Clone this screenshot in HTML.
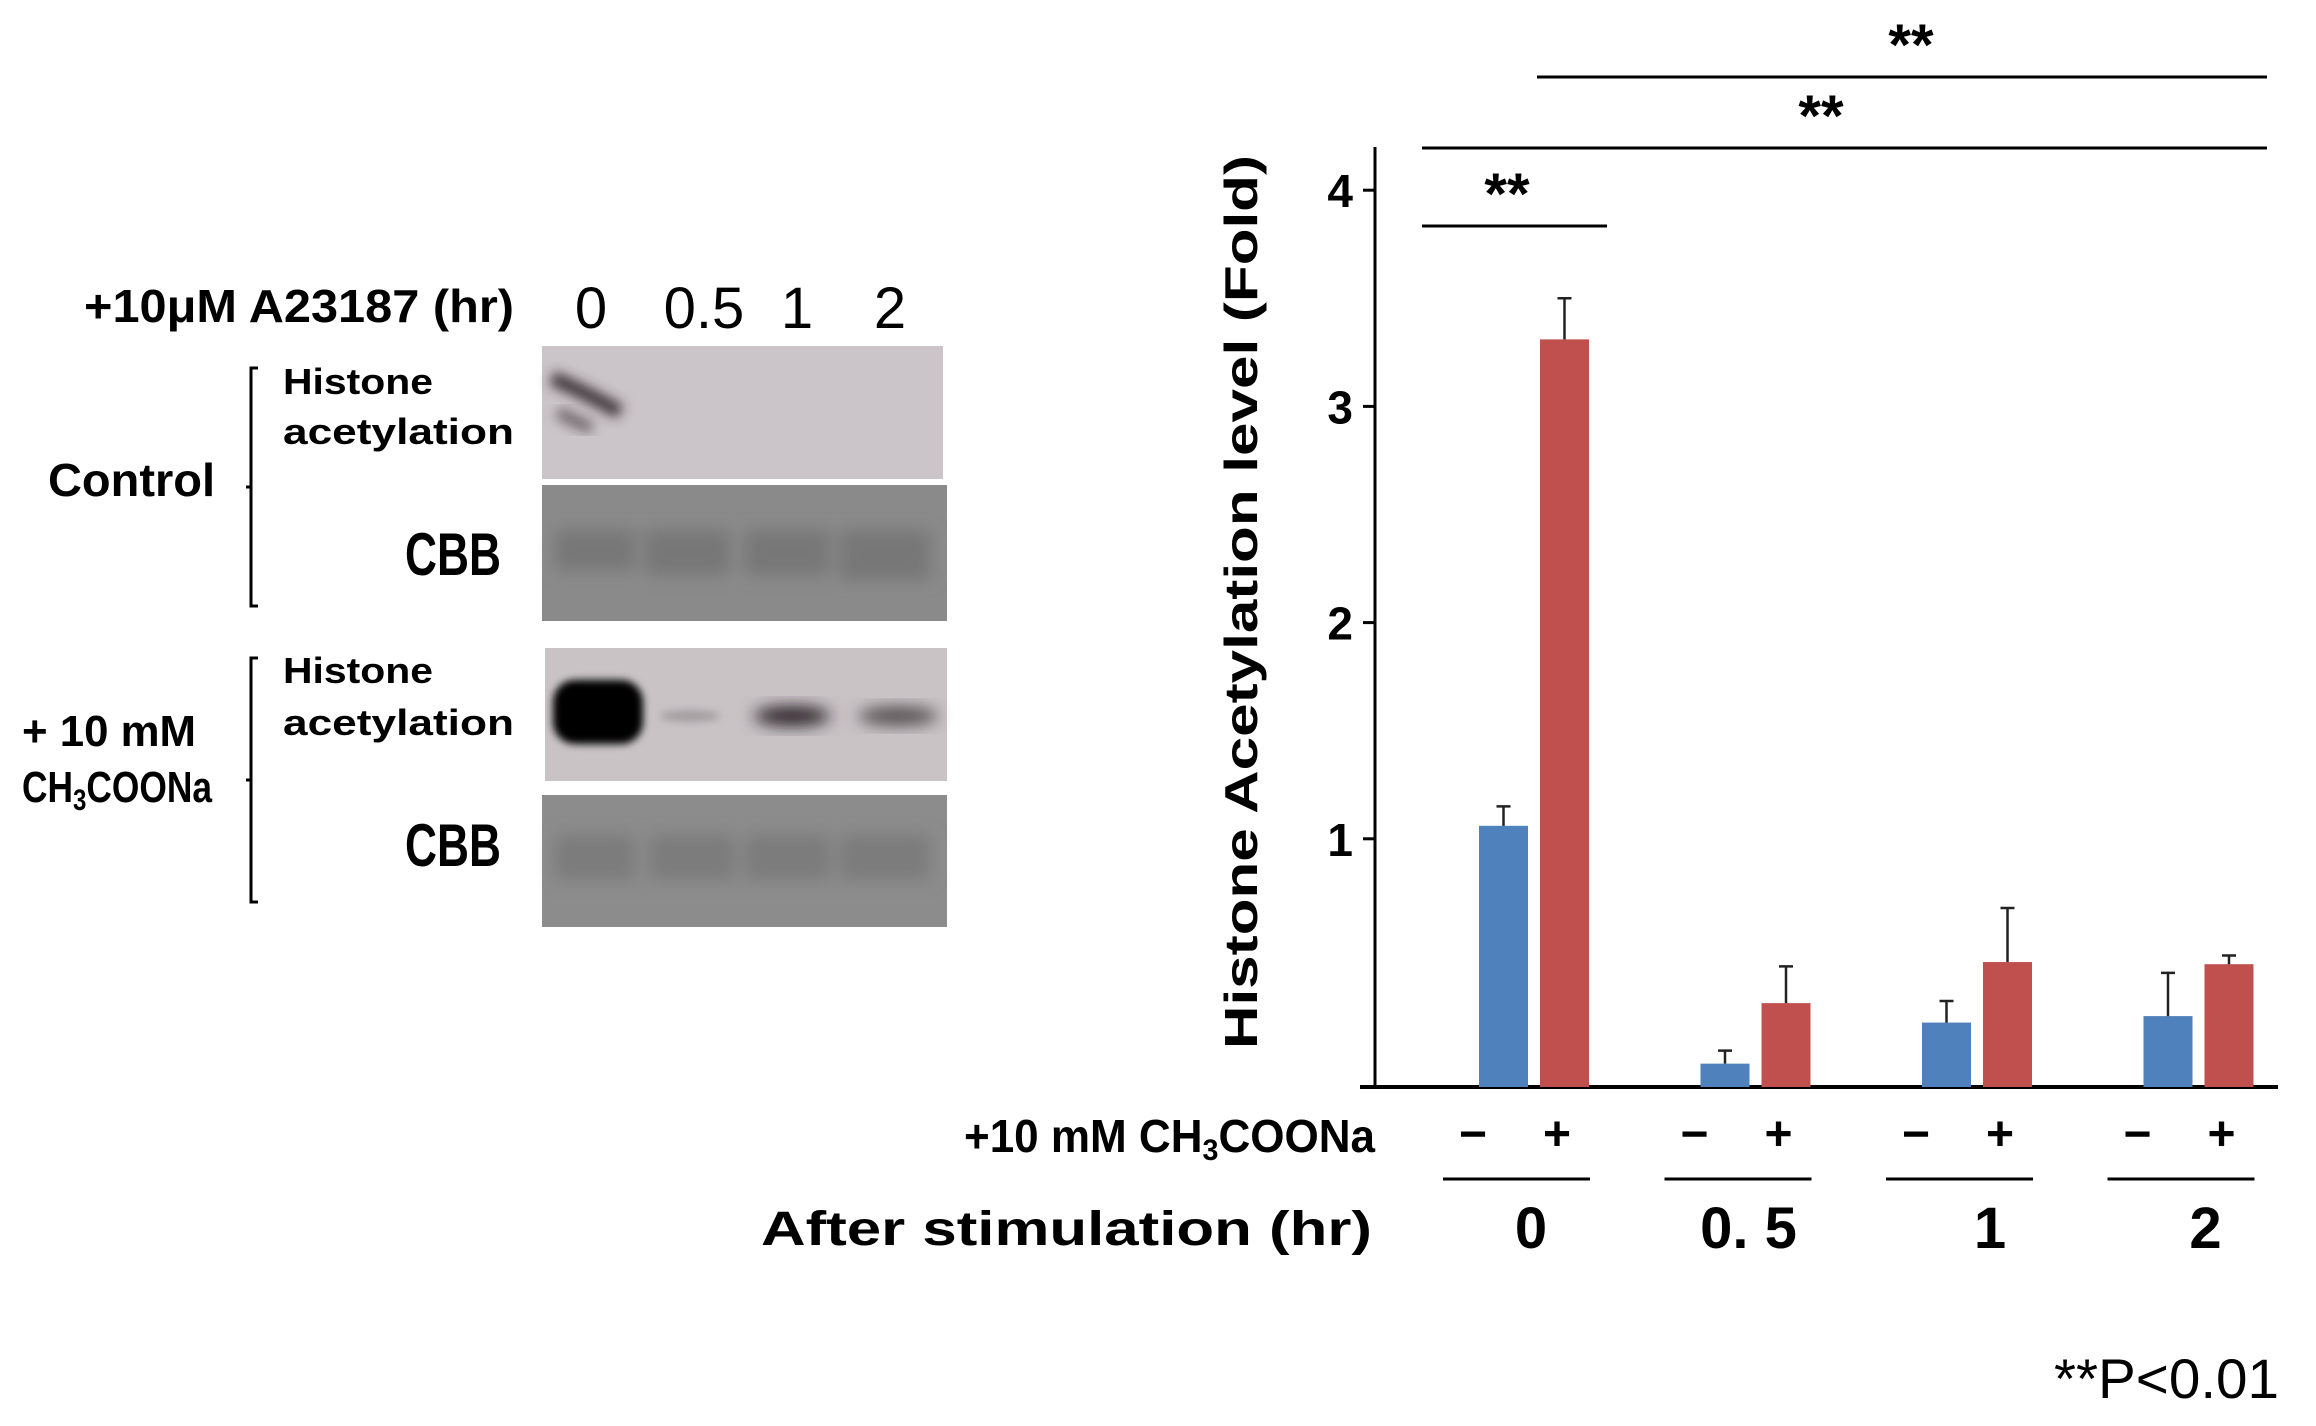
<!DOCTYPE html>
<html><head><meta charset="utf-8"><style>
html,body{margin:0;padding:0;background:#fff;}
svg{display:block;}
text{font-family:"Liberation Sans","Noto Sans CJK JP",sans-serif;}
</style></head><body>
<svg id="fig" width="2316" height="1426" viewBox="0 0 2316 1426" xmlns="http://www.w3.org/2000/svg">
<defs>
<filter id="blur8" x="-50%" y="-50%" width="200%" height="200%"><feGaussianBlur stdDeviation="8"/></filter>
<filter id="blur6" x="-50%" y="-50%" width="200%" height="200%"><feGaussianBlur stdDeviation="6"/></filter>
<filter id="blur4" x="-50%" y="-50%" width="200%" height="200%"><feGaussianBlur stdDeviation="4"/></filter>
</defs>

<g>
<text x="84" y="322" font-size="46" font-weight="bold" textLength="430" lengthAdjust="spacingAndGlyphs">+10μM A23187 (hr)</text>
<text x="591" y="328" font-size="58" text-anchor="middle">0</text>
<text x="704" y="328" font-size="58" text-anchor="middle">0.5</text>
<text x="797" y="328" font-size="58" text-anchor="middle">1</text>
<text x="890" y="328" font-size="58" text-anchor="middle">2</text>

<text x="48" y="496" font-size="46" font-weight="bold" textLength="167" lengthAdjust="spacingAndGlyphs">Control</text>
<text x="22" y="746" font-size="44" font-weight="bold" textLength="174" lengthAdjust="spacingAndGlyphs">+ 10 mM</text>
<text x="22" y="802" font-size="44" font-weight="bold" textLength="190" lengthAdjust="spacingAndGlyphs">CH<tspan font-size="30" dy="8">3</tspan><tspan dy="-8">COONa</tspan></text>

<g stroke="#000" stroke-width="3" fill="none">
<path d="M258 368 H251 V606 H258"/><path d="M251 487 H246"/></g>
<g stroke="#000" stroke-width="3" fill="none">
<path d="M258 658 H251 V902 H258"/><path d="M251 780 H246"/></g>

<text x="283" y="394" font-size="36" font-weight="bold" textLength="150" lengthAdjust="spacingAndGlyphs">Histone</text>
<text x="283" y="444" font-size="36" font-weight="bold" textLength="231" lengthAdjust="spacingAndGlyphs">acetylation</text>
<text x="501" y="575" font-size="60" font-weight="bold" text-anchor="end" textLength="96" lengthAdjust="spacingAndGlyphs">CBB</text>
<text x="283" y="683" font-size="36" font-weight="bold" textLength="150" lengthAdjust="spacingAndGlyphs">Histone</text>
<text x="283" y="735" font-size="36" font-weight="bold" textLength="231" lengthAdjust="spacingAndGlyphs">acetylation</text>
<text x="501" y="866" font-size="60" font-weight="bold" text-anchor="end" textLength="96" lengthAdjust="spacingAndGlyphs">CBB</text>

<g>
<rect x="542" y="346" width="401" height="133" fill="#cbc4c8"/>
<path d="M552 378 Q585 392 620 412" stroke="#3a3336" stroke-width="14" fill="none" filter="url(#blur6)"/>
<path d="M558 412 Q575 422 592 428" stroke="#6d6569" stroke-width="12" fill="none" filter="url(#blur6)"/>
</g>
<g>
<rect x="542" y="485" width="405" height="136" fill="#8a8a8a"/>
<g filter="url(#blur8)" fill="#777">
<rect x="555" y="530" width="80" height="40"/><rect x="645" y="530" width="85" height="45"/><rect x="745" y="530" width="85" height="45"/><rect x="840" y="530" width="90" height="50"/></g>
</g>
<g>
<rect x="545" y="648" width="402" height="133" fill="#c9c3c6"/>
<rect x="553" y="680" width="90" height="64" rx="22" fill="#000" filter="url(#blur4)"/>
<ellipse cx="690" cy="716" rx="30" ry="6" fill="#a59ea1" filter="url(#blur4)"/>
<ellipse cx="792" cy="716" rx="38" ry="10" fill="#2a2326" filter="url(#blur8)"/>
<ellipse cx="898" cy="716" rx="40" ry="9" fill="#4e4649" filter="url(#blur8)"/>
</g>
<g>
<rect x="542" y="795" width="405" height="132" fill="#8c8c8c"/>
<g filter="url(#blur8)" fill="#7b7b7b">
<rect x="555" y="835" width="80" height="45"/><rect x="650" y="835" width="85" height="45"/><rect x="745" y="835" width="85" height="45"/><rect x="840" y="835" width="90" height="45"/></g>
</g>
</g>

<g id="chart"></g>
</svg>

<script>
const groups = ["0", "0.5", "1", "2"];
const groupLabels = ["0", "0. 5", "1", "2"];
const controlValues = [1.06, -0.04, 0.15, 0.18];
const controlErrors = [0.09, 0.06, 0.10, 0.20];
const acetateValues = [3.31, 0.24, 0.43, 0.42];
const acetateErrors = [0.19, 0.17, 0.25, 0.04];
const yTicks = [1, 2, 3, 4];
const yTickLabels = ["1", "2", "3", "4"];

const NS = "http://www.w3.org/2000/svg";
const chart = document.getElementById("chart");
const axisX = 1375, axisBottom = 1087, axisTop = 147, axisRight = 2278;
const zeroY = 1055, unit = 216.2;
function yScale(v){ return zeroY - v * unit; }
const groupStart = 1535, groupStep = 221.5;
function xGroup(i){ return groupStart + i * groupStep; }
const barW = 49;
const labelShift = [-4, -8, 12, 6];

function mk(tag, attrs, parent){
  const el = document.createElementNS(NS, tag);
  for (const k in attrs) el.setAttribute(k, attrs[k]);
  (parent || chart).appendChild(el);
  return el;
}

let yAxis = mk("line", {x1:axisX, y1:axisTop, x2:axisX, y2:axisBottom, stroke:"#000", "stroke-width":3});


let xAxis = mk("line", {x1:axisX-15, y1:axisBottom, x2:axisRight, y2:axisBottom, stroke:"#000", "stroke-width":4});



yTicks.forEach((t, i) => {
  const y = yScale(t);
  const tk = mk("line", {x1:axisX-12, y1:y, x2:axisX, y2:y, stroke:"#000", "stroke-width":3});
  
  
  const lb = mk("text", {x:axisX-22, y:y+17, "font-size":46, "font-weight":"bold", "text-anchor":"end"});
  lb.textContent = yTickLabels[i];
  
  
});

function drawBar(i, v, e, left, color, series){
  const top = yScale(v);
  const r = mk("rect", {x:left, y:Math.min(top, axisBottom), width:barW, height:Math.abs(axisBottom - top), fill:color});
  
  
  const cx = left + barW/2, et = yScale(v + e);
  const eb = mk("path", {d:`M${cx} ${top} V${et} M${cx-7} ${et} H${cx+7}`, stroke:"#222", "stroke-width":2.5, fill:"none"});
  
  
}

groups.forEach((g, i) => {
  const c = xGroup(i);
  drawBar(i, controlValues[i], controlErrors[i], c - 56, "#4f81bd", "control");
  drawBar(i, acetateValues[i], acetateErrors[i], c + 5, "#c0504d", "acetate");
  const mi = mk("text", {x:c-62, y:1150, "font-size":48, "font-weight":"bold", "text-anchor":"middle"});
  mi.textContent = "−";
  
  
  const pl = mk("text", {x:c+22, y:1150, "font-size":48, "font-weight":"bold", "text-anchor":"middle"});
  pl.textContent = "+";
  
  
  const gl = mk("line", {x1:c-92, y1:1179, x2:c+55, y2:1179, stroke:"#000", "stroke-width":3});
  
  
  const gt = mk("text", {x:c+labelShift[i], y:1248, "font-size":58, "font-weight":"bold", "text-anchor":"middle"});
  gt.textContent = groupLabels[i];
  
  
});

const sig = [[1537, 2267, 77, 1911], [1422, 2267, 148, 1821], [1422, 1607, 226, 1507]];
sig.forEach(s => {
  const l = mk("line", {x1:s[0], y1:s[2], x2:s[1], y2:s[2], stroke:"#000", "stroke-width":3});
  
  
  const t = mk("text", {x:s[3], y:s[2]-12, "font-size":58, "font-weight":"bold", "text-anchor":"middle"});
  t.textContent = "**";
  
  
});

const yt = mk("text", {x:0, y:0, "font-size":46, "font-weight":"bold", "text-anchor":"middle", transform:"translate(1257 602) rotate(-90)", textLength:894, lengthAdjust:"spacingAndGlyphs"});
yt.textContent = "Histone Acetylation level (Fold)";



const ac = mk("text", {x:964, y:1152, "font-size":46, "font-weight":"bold", textLength:411, lengthAdjust:"spacingAndGlyphs"});
ac.innerHTML = '+10 mM CH<tspan font-size="30" dy="8">3</tspan><tspan dy="-8">COONa</tspan>';



const st = mk("text", {x:761, y:1245, "font-size":48, "font-weight":"bold", textLength:611, lengthAdjust:"spacingAndGlyphs"});
st.textContent = "After stimulation (hr)";



const pv = mk("text", {x:2279, y:1398, "font-size":56, "text-anchor":"end", textLength:225, lengthAdjust:"spacingAndGlyphs"});
pv.textContent = "**P<0.01";


</script>
</body></html>
